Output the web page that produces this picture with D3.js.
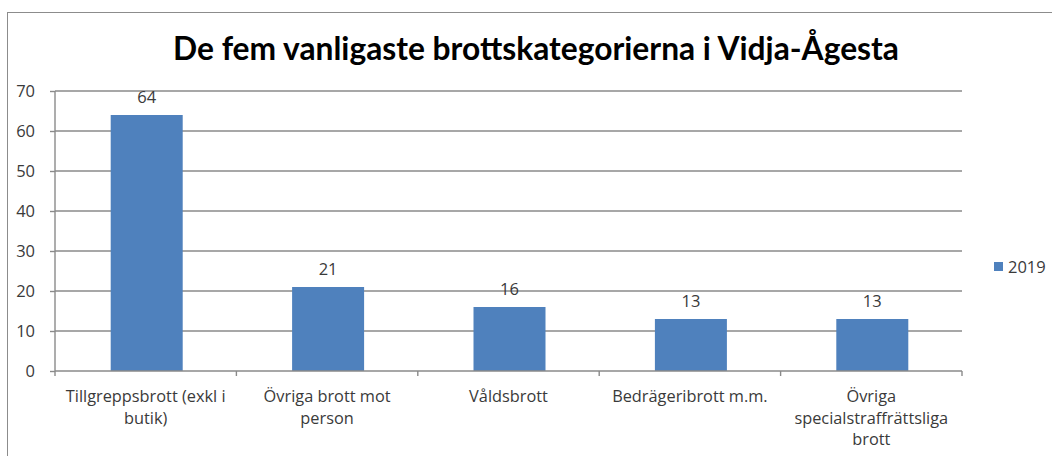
<!DOCTYPE html>
<html><head><meta charset="utf-8">
<script src="https://cdn.jsdelivr.net/npm/d3@7"></script>
<style>body{margin:0;background:#fff}svg{display:block}</style>
</head><body>
<svg id="c" width="1052" height="456"></svg>
<script>
const title = "De fem vanligaste brottskategorierna i Vidja-Ågesta";
const categories = ["Tillgreppsbrott (exkl i butik)", "Övriga brott mot person", "Våldsbrott", "Bedrägeribrott m.m.", "Övriga specialstraffrättsliga brott"];
const categoryLines = [["Tillgreppsbrott (exkl i", "butik)"], ["Övriga brott mot", "person"], ["Våldsbrott"], ["Bedrägeribrott m.m."], ["Övriga", "specialstraffrättsliga", "brott"]];
const seriesName = "2019";
const values2019 = [64, 21, 16, 13, 13];
const yTicks = [0, 10, 20, 30, 40, 50, 60, 70];

(function () {
const svg = d3.select("#c");
const font = "'Open Sans', sans-serif";
const titleFont = "Lato, 'Open Sans', sans-serif";
const txt = "#3a3a3a";
const numSize = 16.5;
const pLeft = 55, pRight = 962, pTop = 91, pBottom = 371;

svg.append("rect").attr("x", 7.5).attr("y", 12.5).attr("width", 1100).attr("height", 500)
  .attr("fill", "#fff").attr("stroke", "#8c8c8c").attr("stroke-width", 1);

const x = d3.scaleBand().domain(categories).range([pLeft, pRight]).paddingInner(0).paddingOuter(0);
const y = d3.scaleLinear().domain([0, 70]).range([pBottom, pTop]);

// gridlines
svg.append("g").selectAll("line").data(yTicks.filter(d => d > 0)).join("line")
  .attr("x1", pLeft).attr("x2", pRight).attr("y1", d => y(d)).attr("y2", d => y(d))
  .attr("stroke", "#8a8a8a").attr("stroke-width", 1.4);

// y axis
const yAxis = svg.append("g").attr("transform", `translate(${pLeft},0)`)
  .call(d3.axisLeft(y).tickValues(yTicks).tickSize(5).tickPadding(15).tickFormat(d3.format("d")));
yAxis.select(".domain").attr("stroke", "#8a8a8a").attr("stroke-width", 1.4).attr("d", `M0,${pTop}V${pBottom}`);
yAxis.selectAll(".tick line").attr("stroke", "#8a8a8a").attr("stroke-width", 1.4);
yAxis.selectAll(".tick text").attr("font-family", font).attr("font-size", numSize).attr("fill", txt).attr("dy", "0.36em");

// bars
const bw = 72;
svg.append("g").selectAll("rect").data(values2019).join("rect")
  .attr("x", (d, i) => x(categories[i]) + x.bandwidth() / 2 - bw / 2 + 1)
  .attr("width", bw)
  .attr("y", d => y(d)).attr("height", d => y(0) - y(d))
  .attr("fill", "#4f81bd");

// x axis
svg.append("line").attr("x1", pLeft).attr("x2", pRight).attr("y1", pBottom).attr("y2", pBottom)
  .attr("stroke", "#8a8a8a").attr("stroke-width", 1.4);
const bounds = categories.map(c => x(c)).concat([pRight]);
svg.append("g").selectAll("line").data(bounds).join("line")
  .attr("x1", d => d).attr("x2", d => d).attr("y1", pBottom).attr("y2", pBottom + 5)
  .attr("stroke", "#8a8a8a").attr("stroke-width", 1.4);

// category labels
const probe = svg.append("text").attr("font-family", font).attr("font-size", 15).text(categoryLines[0][0]);
const catSize = 15 * 160 / probe.node().getComputedTextLength();
probe.remove();
const cl = svg.append("g");
categories.forEach((c, i) => {
  const cx = x(c) + x.bandwidth() / 2;
  const t = cl.append("text").attr("x", cx).attr("y", 402)
    .attr("text-anchor", "middle").attr("font-family", font).attr("font-size", catSize).attr("fill", txt);
  categoryLines[i].forEach((ln, j) => {
    t.append("tspan").attr("x", cx).attr("dy", j === 0 ? 0 : 21.5).text(ln);
  });
});

// value labels
svg.append("g").selectAll("text").data(values2019).join("text")
  .attr("x", (d, i) => x(categories[i]) + x.bandwidth() / 2 + 1)
  .attr("y", d => y(d) - 12)
  .attr("text-anchor", "middle").attr("font-family", font).attr("font-size", numSize).attr("fill", txt)
  .text(d => d);

// title
const tt = svg.append("text").attr("x", 536).attr("y", 60).attr("text-anchor", "middle")
  .attr("font-family", titleFont).attr("font-weight", "bold").attr("font-size", 30).attr("fill", "#000").text(title);
const tw = tt.node().getComputedTextLength();
tt.attr("font-size", 30 * 726 / tw);

// legend
svg.append("rect").attr("x", 994).attr("y", 262).attr("width", 9).attr("height", 9).attr("fill", "#4f81bd");
svg.append("text").attr("x", 1008).attr("y", 272.5).attr("font-family", font).attr("font-size", numSize).attr("fill", txt).text(seriesName);
})();
</script>
</body></html>
